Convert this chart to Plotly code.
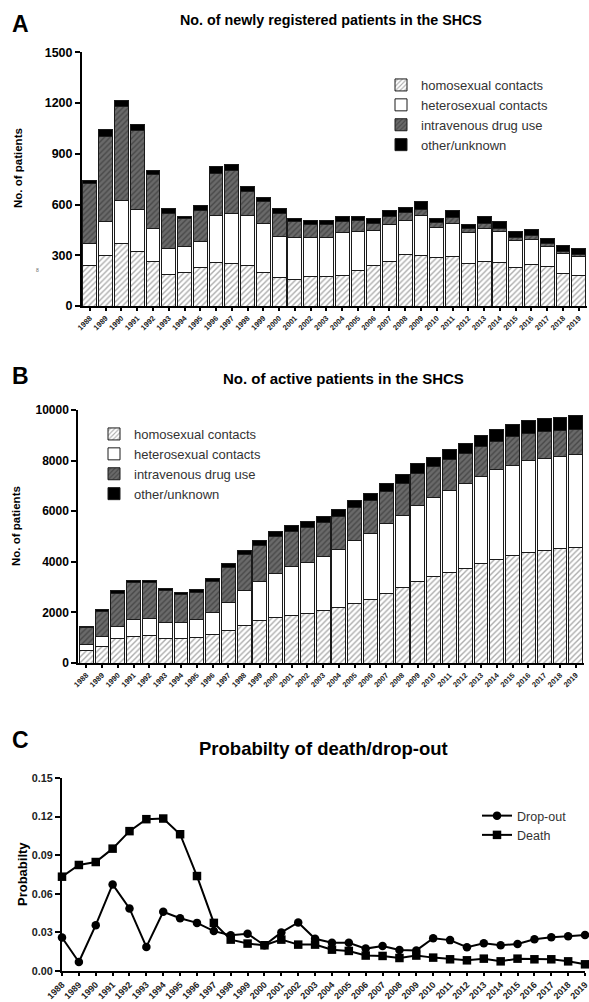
import plotly.graph_objects as go

W, H = 589, 1002
FONT = "Arial, Liberation Sans, Helvetica, sans-serif"

years = list(range(1988, 2020))
groups = ["homosexual contacts", "heterosexual contacts", "intravenous drug use", "other/unknown"]

# Panel A: newly registered patients (segment values)
new_homo = [242, 296, 369, 323, 266, 189, 197, 225, 260, 250, 237, 201, 166, 154, 173, 173,
            181, 211, 237, 262, 307, 296, 284, 290, 252, 266, 260, 229, 248, 231, 193, 181]
new_hetero = [128, 203, 254, 249, 193, 152, 154, 155, 278, 296, 299, 284, 244, 252, 233, 231,
              253, 232, 212, 221, 201, 238, 179, 195, 182, 191, 181, 157, 144, 120, 120, 111]
new_idu = [353, 506, 556, 465, 316, 203, 165, 186, 244, 254, 140, 130, 138, 93, 73, 79,
           65, 62, 36, 49, 44, 38, 30, 39, 23, 30, 20, 20, 22, 16, 10, 14]
new_other = [22, 38, 35, 37, 27, 31, 16, 27, 42, 36, 30, 28, 26, 19, 29, 20,
             31, 25, 33, 34, 33, 45, 25, 40, 26, 45, 36, 34, 37, 31, 34, 35]

# Panel B: active patients (segment values)
act_homo = [510, 670, 950, 1055, 1080, 975, 950, 1015, 1135, 1280, 1500, 1675, 1780, 1895, 1955, 2085,
            2190, 2350, 2505, 2745, 2970, 3205, 3405, 3575, 3755, 3940, 4110, 4240, 4360, 4465, 4520, 4585]
act_hetero = [240, 370, 490, 645, 675, 635, 645, 700, 880, 1120, 1375, 1565, 1750, 1910, 2025, 2130,
              2290, 2485, 2620, 2750, 2855, 3040, 3130, 3235, 3345, 3425, 3530, 3585, 3650, 3625, 3650, 3675]
act_idu = [660, 990, 1315, 1475, 1420, 1250, 1095, 1080, 1190, 1385, 1395, 1400, 1460, 1410, 1370, 1335,
           1330, 1305, 1305, 1290, 1275, 1265, 1225, 1240, 1170, 1175, 1120, 1135, 1070, 1055, 1015, 975]
act_other = [40, 92, 92, 95, 95, 95, 80, 120, 145, 160, 170, 210, 200, 215, 240, 235,
             265, 265, 275, 315, 345, 370, 380, 380, 410, 445, 460, 475, 510, 510, 525, 565]

# Panel C: probabilities
dropout = [0.026, 0.007, 0.0356, 0.0673, 0.0486, 0.0187, 0.046, 0.041, 0.0374, 0.031, 0.0278, 0.029,
           0.020, 0.030, 0.0377, 0.025, 0.022, 0.022, 0.0174, 0.0195, 0.0164, 0.016, 0.0255, 0.024,
           0.0185, 0.0216, 0.020, 0.021, 0.0247, 0.0263, 0.027, 0.028]
death = [0.0733, 0.0824, 0.0847, 0.0951, 0.1087, 0.118, 0.1185, 0.1063, 0.0738, 0.0374, 0.0244, 0.0213,
         0.020, 0.0244, 0.0205, 0.0205, 0.0166, 0.0156, 0.012, 0.0117, 0.0101, 0.012, 0.0104, 0.0091,
         0.0083, 0.0096, 0.0075, 0.0096, 0.0091, 0.0091, 0.0075, 0.0052]

year_labels = [str(y) for y in years]
a_ticks = [0, 300, 600, 900, 1200, 1500]
b_ticks = [0, 2000, 4000, 6000, 8000, 10000]
c_ticks = [0, 0.03, 0.06, 0.09, 0.12, 0.15]
c_tick_labels = ["0.00", "0.03", "0.06", "0.09", "0.12", "0.15"]


def px_x(p):
    return p / W


def px_y(p):
    return 1 - p / H


styles = [
    dict(color="white", pattern=dict(shape="/", fgcolor="#5a5a5a", bgcolor="white", size=4, solidity=0.35)),
    dict(color="white"),
    dict(color="#6a6a6a", pattern=dict(shape="/", fgcolor="#262626", bgcolor="#6a6a6a", size=4, solidity=0.35)),
    dict(color="black"),
]

fig = go.Figure()

for panel, series, xa, ya, leg in [
    ("A", [new_homo, new_hetero, new_idu, new_other], "x", "y", "legend"),
    ("B", [act_homo, act_hetero, act_idu, act_other], "x2", "y2", "legend2"),
]:
    for name, vals, st in zip(groups, series, styles):
        marker = dict(st)
        marker["line"] = dict(color="#1a1a1a", width=1)
        fig.add_trace(go.Bar(x=years, y=vals, name=name, marker=marker,
                             xaxis=xa, yaxis=ya, legend=leg, showlegend=True))

fig.add_trace(go.Scatter(x=years, y=dropout, name="Drop-out", mode="lines+markers",
                         line=dict(color="black", width=2),
                         marker=dict(symbol="circle", size=8.5, color="black"),
                         xaxis="x3", yaxis="y3", legend="legend3", cliponaxis=False))
fig.add_trace(go.Scatter(x=years, y=death, name="Death", mode="lines+markers",
                         line=dict(color="black", width=2),
                         marker=dict(symbol="square", size=8.5, color="black"),
                         xaxis="x3", yaxis="y3", legend="legend3", cliponaxis=False))

axis_common = dict(showline=True, linecolor="black", linewidth=2, ticks="outside",
                   tickcolor="black", tickwidth=1.5, showgrid=False, zeroline=False,
                   automargin=False, ticklabeloverflow="allow")

xtick = dict(tickmode="array", tickvals=years, ticktext=year_labels, tickangle=-45,
             tickfont=dict(family=FONT, size=7.5, color="#222", weight="bold"), ticklen=3)

fig.update_layout(
    width=W, height=H, margin=dict(l=0, r=0, t=0, b=0, autoexpand=False),
    paper_bgcolor="white", plot_bgcolor="white",
    barmode="stack", bargap=0.12,
    font=dict(family=FONT, color="black"),
    xaxis=dict(domain=[px_x(82), px_x(586.6)], range=[1987.5, 2019.5], anchor="y", **xtick, **axis_common),
    yaxis=dict(domain=[px_y(306), px_y(52.3)], range=[0, 1500], anchor="x",
               tickmode="array", tickvals=a_ticks, ticktext=[str(v) for v in a_ticks], ticklen=5,
               tickfont=dict(family=FONT, size=12.5, color="black", weight="bold"), **axis_common),
    xaxis2=dict(domain=[px_x(78.3), px_x(583.7)], range=[1987.5, 2019.5], anchor="y2", **xtick, **axis_common),
    yaxis2=dict(domain=[px_y(663), px_y(410)], range=[0, 10000], anchor="x2",
                tickmode="array", tickvals=b_ticks, ticktext=[str(v) for v in b_ticks], ticklen=5,
                tickfont=dict(family=FONT, size=12, color="black", weight="bold"), **axis_common),
    xaxis3=dict(domain=[px_x(62), px_x(585.2)], range=[1988, 2019.01], anchor="y3",
                tickmode="array", tickvals=years, ticktext=year_labels, tickangle=-45,
                tickfont=dict(family=FONT, size=9, color="#222", weight="bold"), ticklen=3,
                **axis_common),
    yaxis3=dict(domain=[px_y(971), px_y(778)], range=[0, 0.15], anchor="x3",
                tickmode="array", tickvals=c_ticks, ticktext=c_tick_labels,
                ticklen=5, tickfont=dict(family=FONT, size=10.8, color="#222", weight="bold"), **axis_common),
    legend=dict(x=px_x(381), y=px_y(70), xanchor="left", yanchor="top",
                font=dict(family=FONT, size=13, color="#333"), bgcolor="rgba(0,0,0,0)",
                traceorder="normal", tracegroupgap=0),
    legend2=dict(x=px_x(94), y=px_y(419), xanchor="left", yanchor="top",
                 font=dict(family=FONT, size=13, color="#333"), bgcolor="rgba(0,0,0,0)",
                 traceorder="normal", tracegroupgap=0),
    legend3=dict(x=px_x(477), y=px_y(801), xanchor="left", yanchor="top",
                 font=dict(family=FONT, size=12.5, color="#333"), bgcolor="rgba(0,0,0,0)",
                 traceorder="normal", tracegroupgap=0),
)

ann = []


def add_text(text, x, y, size, bold=True, angle=0, color="black", xanchor="center"):
    ann.append(dict(text=text, x=px_x(x), y=px_y(y), xref="paper", yref="paper",
                    showarrow=False, textangle=angle, xanchor=xanchor, yanchor="middle",
                    font=dict(family=FONT, size=size, color=color,
                              weight="bold" if bold else "normal")))


add_text("A", 20, 24, 23)
add_text("B", 20, 376, 23)
add_text("C", 20, 740, 23)
add_text("No. of newly registered patients in the SHCS", 331, 20, 14.3)
add_text("No. of active patients in the SHCS", 343, 378, 15)
add_text("Probabilty of death/drop-out", 323.5, 748, 18.5)
add_text("No. of patients", 18, 168, 11.5, angle=-90)
add_text("No. of patients", 16, 526, 11.5, angle=-90)
add_text("Probabilty", 22, 874, 13, angle=-90)
add_text("8", 37, 270, 5, bold=False, color="#666")

fig.update_layout(annotations=ann)

fig.write_html("out.html", config={"displayModeBar": False},
               post_script="document.body.style.margin='0';document.body.style.overflow='hidden';")
